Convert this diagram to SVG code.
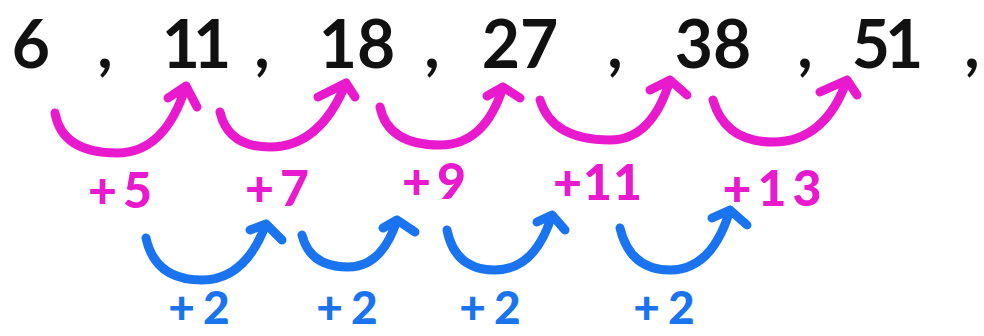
<svg xmlns="http://www.w3.org/2000/svg" width="984" height="336" viewBox="0 0 984 336">
<style>
.num{font-family:"Lato","Noto Sans",sans-serif;font-weight:700;font-size:66px;fill:#111;text-anchor:middle}
.pl{font-family:"Lato","Noto Sans",sans-serif;font-weight:900;font-size:50px;fill:#e91acd;text-anchor:middle;letter-spacing:6px}
.bl{font-family:"Lato","Noto Sans",sans-serif;font-weight:900;font-size:46px;fill:#1a74f0;text-anchor:middle;letter-spacing:8px}
.pa{fill:none;stroke:#e91acd;stroke-width:9;stroke-linecap:round;stroke-linejoin:round}
.ba{fill:none;stroke:#1a74f0;stroke-width:9;stroke-linecap:round;stroke-linejoin:round}
</style>
<rect width="984" height="336" fill="#fff"/>
<g id="sequence">
<text class="num" x="31" y="68">6</text>
<text class="num" x="105" y="68">,</text>
<text class="num" x="193" y="68" style="letter-spacing:-7px">11</text>
<text class="num" x="262" y="68">,</text>
<text class="num" x="357" y="68">18</text>
<text class="num" x="432" y="68">,</text>
<text class="num" x="520" y="68">27</text>
<text class="num" x="615" y="68">,</text>
<text class="num" x="713" y="68">38</text>
<text class="num" x="805" y="68">,</text>
<text class="num" x="885" y="68" style="letter-spacing:-5px">51</text>
<text class="num" x="972" y="68">,</text>
</g>
<g id="first-differences">
<path class="pa" d="M55 113 Q62 153 117 153 Q165 153 186 86 M168 98 L186 86 L197 107"/>
<path class="pa" d="M220 112 Q228 147 270 147 Q320 147 346 83 M318 97 L346 83 L355 97"/>
<path class="pa" d="M380 107 Q388 145 440 145 Q485 145 503 87 M487 96 L503 87 L520 98"/>
<path class="pa" d="M540 100 Q552 140 610 140 Q652 140 670 80 M650 90 L670 80 L687 95"/>
<path class="pa" d="M713 100 Q725 142 773 142 Q825 142 847 80 M820 92 L847 80 L857 95"/>
<text class="pl" x="123" y="208">+5</text>
<text class="pl" x="280" y="206">+7</text>
<text class="pl" x="437" y="199">+9</text>
<text class="pl" x="598" y="200" style="letter-spacing:1px">+11</text>
<text class="pl" x="775" y="206">+13</text>
</g>
<g id="second-differences">
<path class="ba" d="M146 238 Q155 280 202 280 Q245 280 266 224 M250 230 L266 224 L282 240"/>
<path class="ba" d="M302 235 Q310 267 348 267 Q382 267 397 220 M383 228 L397 220 L415 232"/>
<path class="ba" d="M447 230 Q455 270 495 270 Q535 270 552 215 M537 222 L552 215 L565 230"/>
<path class="ba" d="M620 228 Q630 270 670 270 Q712 270 730 210 M712 218 L730 210 L747 225"/>
<text class="bl" x="203" y="324">+2</text>
<text class="bl" x="351" y="324">+2</text>
<text class="bl" x="494" y="324">+2</text>
<text class="bl" x="668" y="324">+2</text>
</g>
</svg>
